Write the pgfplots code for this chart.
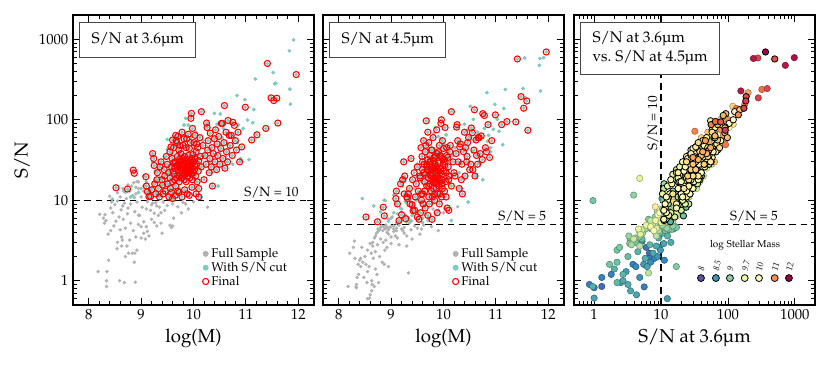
\documentclass[border=0pt]{standalone}
\usepackage[T1]{fontenc}
\usepackage{mathpazo}
\usepackage{textcomp}
\usepackage{pgfplots}
\usepackage{pgfplotstable}
\pgfplotsset{compat=1.18}

\definecolor{fullgray}{RGB}{178,178,178}
\definecolor{cutteal}{RGB}{122,206,192}
\definecolor{boxgray}{RGB}{70,70,70}

% galaxies: log mass, S/N at 3.6um, S/N at 4.5um
% A: fails the S/N cut
\pgfplotstableread[row sep=\\]{
m a b\\
8.18 1.3 0.85\\ 8.21 6.7 2.2\\ 8.28 6.0 2.6\\ 8.30 5.2 3.1\\ 8.31 6.6 1.9\\ 8.33 5.6 0.84\\
8.34 1.0 0.82\\ 8.34 0.85 0.9\\ 8.35 1.3 1.1\\ 8.37 3.8 1.6\\ 8.38 1.8 1.2\\ 8.40 11.2 1.8\\
8.42 8.0 1.9\\ 8.42 4.2 1.5\\ 8.44 9.5 2.6\\ 8.46 7.0 1.7\\ 8.48 4.8 1.1\\ 8.50 8.8 2.0\\
8.52 5.5 1.6\\ 8.54 2.5 0.95\\ 8.55 9.8 2.4\\ 8.55 3.0 1.3\\ 8.55 12.4 0.6\\ 8.58 6.2 1.5\\
8.59 1.0 0.61\\ 8.60 11.0 2.9\\ 8.60 4.3 0.67\\ 8.62 7.6 2.2\\ 8.63 3.5 0.75\\ 8.63 2.7 1.0\\
8.64 3.2 0.9\\ 8.65 8.5 2.7\\ 8.65 14 3.0\\ 8.66 5.8 1.9\\ 8.68 9.2 3.4\\ 8.68 0.95 0.85\\
8.70 12.5 3.6\\ 8.70 4.5 2.3\\ 8.70 2.0 1.4\\ 8.72 10.5 3.9\\ 8.73 2.7 1.2\\ 8.74 6.8 2.8\\
8.75 8.0 4.1\\ 8.75 15.5 4.4\\ 8.76 2.2 0.95\\ 8.78 13 4.3\\ 8.78 3.2 2.0\\ 8.80 9.0 4.6\\
8.80 5.2 3.3\\ 8.82 15 4.8\\ 8.83 2.2 1.7\\ 8.84 11.5 4.2\\ 8.85 4.2 3.0\\ 8.86 16.5 4.7\\
8.87 1.7 1.6\\ 8.88 7.2 4.4\\ 8.88 2.2 2.4\\ 8.89 0.96 9.9\\ 8.90 12 4.5\\ 8.90 14.5 4.9\\
8.90 3.5 3.2\\ 8.92 9.5 4.0\\ 8.92 2.4 2.6\\ 8.92 17 4.6\\ 8.95 14 4.3\\ 8.95 6.5 5.8\\
8.95 5.0 3.8\\ 8.95 16.9 1.5\\ 8.97 6.5 4.6\\ 9.00 11 4.7\\ 9.00 4.7 3.5\\ 9.00 3.4 2.9\\
9.02 8.2 6.2\\ 9.05 13 4.4\\ 9.05 5.4 4.1\\ 9.05 15 4.8\\ 9.05 3.9 11.6\\ 9.08 3.3 3.6\\
9.10 4.7 4.2\\ 9.10 12.2 4.5\\ 9.10 7.8 5.2\\ 9.12 4.1 3.4\\ 9.12 9.6 6.8\\ 9.15 3.6 2.8\\
9.15 10.5 4.9\\ 9.18 7.5 5.5\\ 9.20 5.8 4.4\\ 9.20 8.8 7.2\\ 9.22 9.2 4.2\\ 9.25 6.9 4.6\\
9.25 5.3 3.9\\ 9.28 9.3 6.5\\ 9.30 4.8 2.7\\ 9.30 8.5 3.6\\ 9.33 6.5 1.25\\ 9.35 8.2 5.2\\
9.38 5.2 4.3\\ 9.38 7.0 5.6\\ 9.40 3.9 3.3\\ 9.42 9.5 7.6\\ 9.45 7.5 4.8\\ 9.50 8.6 4.5\\
9.55 4.9 3.8\\ 9.58 4.6 4.4\\ 9.60 9.0 6.0\\ 9.60 4.8 18.7\\ 9.62 6.0 4.9\\ 9.70 8.3 5.6\\
9.77 7.0 4.7\\ 9.80 9.4 7.8\\ 9.85 9.0 6.6\\ 9.90 7.8 4.2\\ 10.00 9.6 7.0\\ 10.27 8.2 8.3\\
}\tabA

% B: passes the S/N cut, not in the final sample
\pgfplotstableread[row sep=\\]{
m a b\\
8.45 10.3 10.5\\ 8.67 13 8.5\\ 8.80 11 7.2\\ 8.87 10.8 10\\ 8.95 12.5 5.5\\ 9.00 14 6.0\\
9.05 20 7.0\\ 9.10 17 9.0\\ 9.15 13 5.2\\ 9.18 14 8.0\\ 9.20 10.5 7.8\\ 9.22 30 15\\
9.25 16 6.3\\ 9.27 23 17.6\\ 9.28 18 9.5\\ 9.30 12 5.4\\ 9.33 11.5 6.0\\ 9.35 26 11\\
9.36 19 12\\ 9.38 15 5.5\\ 9.40 18 6.5\\ 9.43 13 8.5\\ 9.45 34 14\\ 9.48 17 10\\
9.50 57 28\\ 9.50 43 20\\ 9.52 15 7.2\\ 9.55 21 9.5\\ 9.58 38 17\\ 9.60 10.1 5.3\\
9.62 27 12\\ 9.65 17 6.8\\ 9.68 48 25\\ 9.70 32 30\\ 9.72 14 6.0\\ 9.75 40 33\\
9.78 20 9.0\\ 9.80 26 28\\ 9.82 86 68\\ 9.85 104 80\\ 9.87 36 40\\ 9.90 86 62\\
9.90 12 7.5\\ 9.92 22 11\\ 9.95 60 58\\ 9.98 28 14\\ 10.00 45 50\\ 10.03 18 8.0\\
10.05 70 65\\ 10.08 35 24\\ 10.12 25 16\\ 10.15 11 5.6\\ 10.18 55 36\\ 10.22 38 45\\
10.27 90 86\\ 10.30 30 22\\ 10.35 22 14\\ 10.40 120 88\\ 10.45 88 74\\ 10.47 15 9.5\\
10.50 40 60\\ 10.51 118 147\\ 10.55 60 40\\ 10.57 78 101\\ 10.60 90 55\\ 10.62 35 20\\
10.65 50 70\\ 10.68 63 30\\ 10.70 45 28\\ 10.75 28 18\\ 10.78 60 78\\ 10.83 200 217\\
10.84 52 54\\ 10.86 86 64\\ 10.90 31 40\\ 10.90 33 45\\ 10.95 78 76\\ 10.98 178 155\\
11.03 99 101\\ 11.06 32 72\\ 11.13 92 49\\ 11.15 134 138\\ 11.18 321 238\\ 11.52 386 244\\
11.55 280 585\\ 11.57 284 187\\ 11.83 720 474\\ 11.84 240 577\\ 11.85 156 228\\ 11.91 980 591\\
}\tabB

% C: final sample
\pgfplotstableread[row sep=\\]{
m a b\\
8.52 14.3 6.2\\ 8.74 13.8 5.4\\ 8.85 23.7 8.2\\ 8.87 21.6 6.4\\ 9.09 19.6 10.5\\ 9.10 15 13\\
9.12 12.8 9\\ 9.15 11.1 5.6\\ 9.18 11.1 16\\ 9.20 13.5 6.6\\
9.22 38 18\\ 9.24 33 30\\ 9.25 27 12\\ 9.26 16 20\\ 9.28 12 5.9\\ 9.30 18 11\\
9.31 22 10.5\\ 9.33 14 12\\ 9.35 11 14\\ 9.36 26 9\\ 9.38 30 33\\ 9.40 18 8.8\\
9.41 15.5 18\\ 9.42 12 7.4\\ 9.44 24 22\\ 9.45 20 7.5\\ 9.46 13 11\\ 9.48 35 16\\
9.50 16 6.2\\ 9.50 28 26\\ 9.52 22 13\\ 9.53 11 5.8\\ 9.55 40 20\\ 9.55 19 19\\
9.56 14 7\\ 9.57 46 45\\ 9.58 26 12\\ 9.58 12.5 10\\ 9.59 33 35\\ 9.60 17 24\\
9.60 56 30\\ 9.60 10.5 12\\ 9.61 23 9\\ 9.62 29 22\\ 9.62 45 55\\
9.63 21 28\\ 9.64 25 13\\ 9.64 18 17\\ 9.65 30 40\\ 9.65 11.5 8\\ 9.66 64 48\\
9.66 15 21\\ 9.67 55 97\\ 9.68 27 15\\ 9.68 19 26\\ 9.68 52 28\\ 9.69 35 24\\
9.70 24 32\\ 9.70 13 6.5\\ 9.70 62 70\\ 9.71 28 19\\ 9.72 20 11\\ 9.72 42 52\\
9.72 12.5 15\\ 9.73 32 26\\ 9.73 17 9\\ 9.74 26 36\\ 9.74 23 16\\ 9.74 48 30\\
9.75 30 21\\ 9.75 21 30\\ 9.76 38 20\\ 9.76 25 24\\ 9.77 19 13\\ 9.77 28 42\\
9.78 22 18\\ 9.78 33 27\\ 9.78 11 5.8\\ 9.78 70 42\\ 9.79 24 11\\ 9.79 27 22\\
9.80 20 21\\ 9.80 31 17\\ 9.80 48 60\\ 9.81 23 25\\ 9.81 26 14\\ 9.82 18 19\\
9.82 29 31\\ 9.82 58 34\\ 9.83 21 10\\ 9.83 35 23\\ 9.83 13.5 12\\ 9.84 25 28\\
9.84 28 19\\ 9.85 22 17\\ 9.85 24 35\\ 9.86 30 14\\ 9.86 17 22\\ 9.86 45 26\\
9.87 26 16\\ 9.87 58 75\\ 9.88 23 20\\ 9.88 32 38\\ 9.88 12 7\\ 9.89 27 24\\
9.89 20 12\\ 9.90 25 29\\ 9.90 36 18\\ 9.90 66 40\\ 9.91 22 15\\ 9.91 29 23\\
9.92 24 19\\ 9.92 44 48\\ 9.92 11.5 9\\ 9.93 19 17\\ 9.93 27 12\\ 9.94 31 35\\
9.94 23 22\\ 9.94 52 36\\ 9.95 104 90\\ 9.95 26 25\\ 9.96 120 100\\ 9.96 21 11\\
9.97 33 21\\ 9.97 28 18\\ 9.97 14.5 16\\ 9.98 25 33\\ 9.98 18 14\\ 9.98 78 55\\
9.99 37 28\\ 10.00 30 44\\ 10.00 22 23\\ 10.01 52 32\\ 10.02 27 27\\ 10.02 24 13\\
10.03 33 30\\ 10.03 64 80\\ 10.04 20 17\\ 10.05 40 22\\ 10.05 12 11\\ 10.06 28 36\\
10.06 50 45\\ 10.07 17 8\\ 10.08 45 34\\ 10.09 23 26\\ 10.10 31 20\\ 10.10 14 18\\
10.10 11 7.5\\ 10.12 60 40\\ 10.13 35 48\\ 10.15 126 126\\ 10.15 26 15\\
10.18 48 30\\ 10.20 18 22\\ 10.22 36 20\\ 10.24 28 38\\ 10.25 91 81\\ 10.26 80 87\\
10.27 42 55\\ 10.28 55 30\\ 10.30 22 14\\ 10.31 33 46\\ 10.32 68 50\\ 10.34 26 18\\
10.35 45 28\\ 10.36 15 12\\ 10.38 38 40\\ 10.40 58 70\\ 10.41 30 20\\ 10.42 75 45\\
10.44 24 30\\ 10.45 50 35\\ 10.46 36 52\\ 10.48 62 60\\ 10.50 28 24\\ 10.52 44 28\\
10.53 90 79\\ 10.55 90 69\\ 10.56 33 24\\ 10.58 52 42\\ 10.59 150 133\\ 10.60 25 20\\
10.62 70 56\\ 10.63 40 36\\ 10.65 30 28\\ 10.66 98 60\\ 10.68 64 60\\ 10.70 48 38\\
10.72 64 63\\ 10.74 36 32\\ 10.75 93 119\\ 10.78 85 113\\ 10.80 55 45\\ 10.82 42 40\\
10.85 70 87\\ 10.88 30 34\\ 10.92 46 55\\ 10.99 143 115\\ 11.11 56 87\\ 11.21 65 95\\
11.38 78 94\\ 11.41 500 569\\ 11.48 187 194\\ 11.53 173 139\\ 11.59 185 171\\ 11.61 91 74\\
11.96 364 695\\
}\tabC

\pgfplotsset{
  colormap={spectralr}{rgb255=(94,79,162) rgb255=(50,136,189) rgb255=(102,194,165)
    rgb255=(171,221,164) rgb255=(230,245,152) rgb255=(255,255,191) rgb255=(254,224,139)
    rgb255=(253,174,97) rgb255=(244,109,67) rgb255=(213,62,79) rgb255=(158,1,66)},
  every axis/.append style={
    scale only axis, width=180.75pt, height=217.5pt,
    ymode=log, ymin=0.5, ymax=2000,
    ytick={1,10,100,1000},
    minor ytick={0.5,0.6,0.7,0.8,0.9,2,3,4,5,6,7,8,9,20,30,40,50,60,70,80,90,200,300,400,500,600,700,800,900},
    tick align=inside, major tick length=5pt, minor tick length=2.8pt,
    axis line style={line width=0.9pt},
    every tick/.style={black, line width=0.6pt},
    tick label style={font=\fontsize{11}{13}\selectfont},
    label style={font=\fontsize{14}{16}\selectfont},
    legend style={at={(rel axis cs:0.52,0.215)}, anchor=north west, draw=none, fill=none,
      font=\fontsize{9.5}{11}\selectfont, row sep=-2pt},
    legend cell align=left,
  },
}
\tikzset{
  titlebox/.style={draw=boxgray, fill=white, line width=0.8pt, anchor=north west,
    font=\fontsize{11.5}{14}\selectfont, inner xsep=9pt, inner ysep=7pt},
  cutlabel/.style={font=\fontsize{10}{12}\selectfont, inner sep=1.5pt},
  keylabel/.style={font=\fontsize{6.5}{7}\selectfont\itshape, rotate=78, inner sep=0pt, anchor=west},
}

\begin{document}
\begin{tikzpicture}
\path[use as bounding box] (-54.75pt,-48pt) rectangle (567.75pt,228.75pt);

% panel 1: S/N at 3.6um against mass
\begin{axis}[at={(0pt,0pt)}, ylabel={S/N}, yticklabels={1,10,100,1000},
  xmin=7.7, xmax=12.3, xtick={8,9,10,11,12}, minor x tick num=4, xlabel={log(M)}]
\addplot[only marks, mark=*, mark size=1.1pt, fullgray, forget plot] table[x=m, y=a] {\tabA};
\addplot[only marks, mark=*, mark size=1.1pt, fullgray, forget plot] table[x=m, y=a] {\tabB};
\addplot[only marks, mark=*, mark size=1.1pt, cutteal, forget plot] table[x=m, y=a] {\tabB};
\addplot[only marks, mark=*, mark size=1.1pt, cutteal, forget plot] table[x=m, y=a] {\tabC};
\addplot[only marks, mark=o, mark size=2.3pt, red, line width=0.8pt, forget plot] table[x=m, y=a] {\tabC};
\addplot[black, line width=0.9pt, dash pattern=on 5pt off 3.5pt, forget plot] coordinates {(7.7,10) (12.3,10)};
\node[cutlabel, anchor=south east] at (axis cs:12.05,10) {S/N = 10};
\node[titlebox, minimum width=84pt, minimum height=26.25pt] at (rel axis cs:0.025,0.976) {S/N at 3.6\textmu m};
\addlegendimage{only marks, mark=*, mark size=2pt, fullgray}
\addlegendentry{Full Sample}
\addlegendimage{only marks, mark=*, mark size=2pt, cutteal}
\addlegendentry{With S/N cut}
\addlegendimage{only marks, mark=o, mark size=2.3pt, red, line width=0.8pt}
\addlegendentry{Final}
\end{axis}

% panel 2: S/N at 4.5um against mass
\begin{axis}[at={(187.5pt,0pt)}, yticklabels={,,},
  xmin=7.7, xmax=12.3, xtick={8,9,10,11,12}, minor x tick num=4, xlabel={log(M)}]
\addplot[only marks, mark=*, mark size=1.1pt, fullgray, forget plot] table[x=m, y=b] {\tabA};
\addplot[only marks, mark=*, mark size=1.1pt, fullgray, forget plot] table[x=m, y=b] {\tabB};
\addplot[only marks, mark=*, mark size=1.1pt, cutteal, forget plot] table[x=m, y=b] {\tabB};
\addplot[only marks, mark=*, mark size=1.1pt, cutteal, forget plot] table[x=m, y=b] {\tabC};
\addplot[only marks, mark=o, mark size=2.3pt, red, line width=0.8pt, forget plot] table[x=m, y=b] {\tabC};
\addplot[black, line width=0.9pt, dash pattern=on 5pt off 3.5pt, forget plot] coordinates {(7.7,5) (12.3,5)};
\node[cutlabel, anchor=south east] at (axis cs:12.0,5) {S/N = 5};
\node[titlebox, minimum width=84pt, minimum height=26.25pt] at (rel axis cs:0.025,0.976) {S/N at 4.5\textmu m};
\addlegendimage{only marks, mark=*, mark size=2pt, fullgray}
\addlegendentry{Full Sample}
\addlegendimage{only marks, mark=*, mark size=2pt, cutteal}
\addlegendentry{With S/N cut}
\addlegendimage{only marks, mark=o, mark size=2.3pt, red, line width=0.8pt}
\addlegendentry{Final}
\end{axis}

% panel 3: S/N at 3.6um against S/N at 4.5um, coloured by mass
\begin{axis}[at={(375.75pt,0pt)}, yticklabels={,,},
  xmode=log, xmin=0.5, xmax=2000, xtick={1,10,100,1000}, xticklabels={1,10,100,1000},
  minor xtick={0.5,0.6,0.7,0.8,0.9,2,3,4,5,6,7,8,9,20,30,40,50,60,70,80,90,200,300,400,500,600,700,800,900},
  xlabel={S/N at 3.6\textmu m},
  colormap name=spectralr, point meta min=8, point meta max=12]
\addplot[scatter, only marks, mark=*, mark size=2.4pt, line width=0.4pt, point meta=explicit,
  scatter/use mapped color={draw=mapped color!65!black, fill=mapped color}, forget plot]
  table[x=a, y=b, meta=m] {\tabA};
\addplot[scatter, only marks, mark=*, mark size=2.4pt, line width=0.4pt, point meta=explicit,
  scatter/use mapped color={draw=mapped color!65!black, fill=mapped color}, forget plot]
  table[x=a, y=b, meta=m] {\tabB};
\addplot[scatter, only marks, mark=*, mark size=2.4pt, line width=0.6pt, point meta=explicit,
  scatter/use mapped color={draw=black, fill=mapped color}, forget plot]
  table[x=a, y=b, meta=m] {\tabC};
\addplot[black, line width=0.9pt, dash pattern=on 5pt off 3.5pt, forget plot] coordinates {(0.5,5) (2000,5)};
\addplot[black, line width=0.9pt, dash pattern=on 5pt off 3.5pt, forget plot] coordinates {(10,0.5) (10,2000)};
\node[cutlabel, anchor=south east] at (axis cs:600,5) {S/N = 5};
\node[cutlabel, anchor=south, rotate=90] at (axis cs:10,90) {S/N = 10};
% mass key
\addplot[scatter, only marks, mark=*, mark size=2.6pt, line width=0.6pt, point meta=explicit,
  scatter/use mapped color={draw=black, fill=mapped color}, forget plot]
  coordinates {(39.5,1.08) [8] (66,1.08) [8.5] (107,1.08) [9] (178,1.08) [9.7]
               (291,1.08) [10] (499,1.08) [11] (815,1.08) [12]};
\node[font=\fontsize{7.5}{9}\selectfont] at (axis cs:180,2.75) {log Stellar Mass};
\node[keylabel] at (axis cs:39.5,1.32) {8};
\node[keylabel] at (axis cs:66,1.32) {8.5};
\node[keylabel] at (axis cs:107,1.32) {9};
\node[keylabel] at (axis cs:178,1.32) {9.7};
\node[keylabel] at (axis cs:291,1.32) {10};
\node[keylabel] at (axis cs:499,1.32) {11};
\node[keylabel] at (axis cs:815,1.32) {12};
\node[titlebox, align=left] at (rel axis cs:0.025,0.976) {S/N at 3.6\textmu m\\vs.\ S/N at 4.5\textmu m};
\end{axis}
\end{tikzpicture}
\end{document}
